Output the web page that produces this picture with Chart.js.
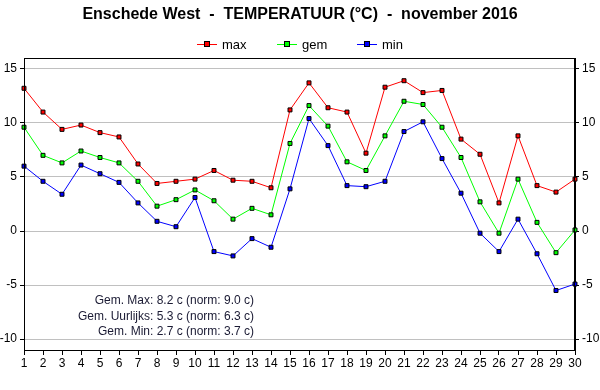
<!DOCTYPE html>
<html>
<head>
<meta charset="utf-8">
<script src="https://cdn.jsdelivr.net/npm/chart.js@4.4.0/dist/chart.umd.min.js"></script>
<style>
  html, body { margin: 0; padding: 0; background: #fff; }
  #wrap { width: 600px; height: 390px; }
</style>
</head>
<body>
<div id="wrap"><canvas id="tempChart" width="600" height="390"></canvas></div>
<script>
// dagen van de maand
const days = Array.from({ length: 30 }, (_, i) => String(i + 1));

// temperaturen (°C)
const maxTemp = [13.2, 11.0, 9.4, 9.8, 9.1, 8.7, 6.2, 4.4, 4.6, 4.8,
                 5.6, 4.7, 4.6, 4.0, 11.2, 13.7, 11.4, 11.0, 7.2, 13.3,
                 13.9, 12.8, 13.0, 8.5, 7.1, 2.6, 8.8, 4.2, 3.6, 4.8];
const gemTemp = [9.6, 7.0, 6.3, 7.4, 6.8, 6.3, 4.6, 2.3, 2.9, 3.8,
                 2.8, 1.1, 2.1, 1.5, 8.1, 11.6, 9.7, 6.4, 5.6, 8.8,
                 12.0, 11.7, 9.6, 6.8, 2.7, -0.2, 4.8, 0.8, -2.0, 0.1];
const minTemp = [6.0, 4.6, 3.4, 6.1, 5.3, 4.5, 2.6, 0.9, 0.4, 3.1,
                 -1.9, -2.3, -0.7, -1.5, 3.9, 10.4, 7.9, 4.2, 4.1, 4.6,
                 9.2, 10.1, 6.7, 3.5, -0.2, -1.9, 1.1, -2.1, -5.5, -4.9];

const yTicks = [-10, -5, 0, 5, 10, 15];
const seriesNames = ['max', 'gem', 'min'];
const seriesColors = ['#ff0000', '#00ff00', '#0000ff'];

const titleText = 'Enschede West  -  TEMPERATUUR (\u00B0C)  -  november 2016';
const notes = [
    'Gem. Max: 8.2 c (norm: 9.0 c)',
    'Gem. Uurlijks: 5.3 c (norm: 6.3 c)',
    'Gem. Min: 2.7 c (norm: 3.7 c)'
];

const FONT = '"Liberation Sans", Arial, sans-serif';

// titel, legenda, kader en tekst onderin
const extras = {
    id: 'extras',
    afterDraw(chart) {
        const ctx = chart.ctx;
        const area = chart.chartArea;
        ctx.save();

        ctx.strokeStyle = '#000';
        ctx.lineWidth = 1;
        ctx.strokeRect(Math.round(area.left) + 0.5, Math.round(area.top) + 0.5,
            Math.round(area.right - area.left) - 1, Math.round(area.bottom - area.top));

        ctx.fillStyle = '#000';
        ctx.font = 'bold 16px ' + FONT;
        ctx.textAlign = 'center';
        ctx.textBaseline = 'middle';
        ctx.fillText(titleText, 300, 15);

        ctx.font = '13px ' + FONT;
        ctx.textAlign = 'left';
        const legendX = [197, 277, 357];
        seriesNames.forEach((name, i) => {
            const x = legendX[i], y = 44.5;
            ctx.strokeStyle = seriesColors[i];
            ctx.beginPath();
            ctx.moveTo(x, y);
            ctx.lineTo(x + 20, y);
            ctx.stroke();
            ctx.fillStyle = seriesColors[i];
            ctx.fillRect(x + 8, y - 2.5, 5, 5);
            ctx.strokeStyle = '#000';
            ctx.strokeRect(x + 7.5, y - 3, 5, 5);
            ctx.fillStyle = '#000';
            ctx.fillText(name, x + 25, y + 1);
        });

        ctx.font = '12px ' + FONT;
        ctx.textAlign = 'right';
        ctx.fillStyle = '#1a1a33';
        notes.forEach((t, i) => ctx.fillText(t, 254, 301 + i * 15.3));
        ctx.restore();
    }
};

function makeSet(label, data, color) {
    return {
        label: label,
        data: data,
        borderColor: color,
        borderWidth: 1,
        backgroundColor: color,
        pointStyle: 'rect',
        pointRadius: 2.8,
        pointBorderColor: '#000',
        pointBorderWidth: 1,
        pointBackgroundColor: color,
        tension: 0,
        yAxisID: 'y'
    };
}

const yAxisBase = {
    type: 'linear',
    min: -11,
    max: 16,
    afterBuildTicks: axis => { axis.ticks = yTicks.map(v => ({ value: v })); },
    ticks: { color: '#000', font: { family: FONT, size: 12 }, padding: 3, autoSkip: false },
    border: { display: true, color: '#000' }
};

new Chart(document.getElementById('tempChart'), {
    type: 'line',
    data: {
        labels: days,
        datasets: [
            makeSet(seriesNames[0], maxTemp, seriesColors[0]),
            makeSet(seriesNames[1], gemTemp, seriesColors[1]),
            makeSet(seriesNames[2], minTemp, seriesColors[2])
        ]
    },
    options: {
        responsive: false,
        animation: false,
        layout: { padding: { top: 58, left: 0, right: 0, bottom: 0 } },
        plugins: {
            legend: { display: false },
            title: { display: false },
            tooltip: { enabled: false }
        },
        scales: {
            x: {
                offset: false,
                grid: { drawOnChartArea: false, tickColor: '#000', tickLength: 5 },
                border: { display: true, color: '#000' },
                ticks: { color: '#000', font: { family: FONT, size: 12 }, padding: 1, maxRotation: 0, autoSkip: false },
                afterFit: axis => { axis.height = 40; }
            },
            y: Object.assign({}, yAxisBase, {
                position: 'left',
                grid: { color: '#c0c0c0', tickColor: '#000', tickLength: 4 },
                afterFit: axis => { axis.width = 24; }
            }),
            y2: Object.assign({}, yAxisBase, {
                position: 'right',
                grid: { drawOnChartArea: false, tickColor: '#000', tickLength: 4 },
                afterFit: axis => { axis.width = 25; }
            })
        }
    },
    plugins: [extras]
});
</script>
</body>
</html>
